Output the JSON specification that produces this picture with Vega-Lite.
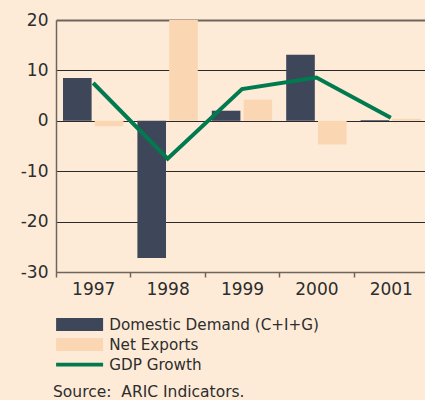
{
  "$schema": "https://vega.github.io/schema/vega-lite/v6.json",
  "width": 372,
  "height": 252,
  "autosize": "none",
  "padding": {"left": 56, "top": 20, "right": 0, "bottom": 128},
  "background": "#fdebd8",
  "config": {"view": {"stroke": null}, "font": "DejaVu Sans"},
  "title": {
    "text": "Source:\u00a0\u00a0ARIC\u00a0Indicators.",
    "orient": "bottom",
    "anchor": "start",
    "frame": "group",
    "baseline": "alphabetic",
    "offset": 24,
    "dx": -3,
    "fontSize": 15.5,
    "fontWeight": "normal",
    "color": "#2d2d2d"
  },
  "data": {
    "values": [
      {"year": "1997", "series": "Domestic Demand (C+I+G)", "value": 8.5},
      {"year": "1998", "series": "Domestic Demand (C+I+G)", "value": -27.2},
      {"year": "1999", "series": "Domestic Demand (C+I+G)", "value": 2.0},
      {"year": "2000", "series": "Domestic Demand (C+I+G)", "value": 13.1},
      {"year": "2001", "series": "Domestic Demand (C+I+G)", "value": 0.15},
      {"year": "1997", "series": "Net Exports", "value": -1.1},
      {"year": "1998", "series": "Net Exports", "value": 20},
      {"year": "1999", "series": "Net Exports", "value": 4.2},
      {"year": "2000", "series": "Net Exports", "value": -4.7},
      {"year": "2001", "series": "Net Exports", "value": 0.4},
      {"year": "1997", "series": "GDP Growth", "value": 7.5},
      {"year": "1998", "series": "GDP Growth", "value": -7.5},
      {"year": "1999", "series": "GDP Growth", "value": 6.3},
      {"year": "2000", "series": "GDP Growth", "value": 8.6},
      {"year": "2001", "series": "GDP Growth", "value": 0.6}
    ]
  },
  "encoding": {
    "x": {
      "field": "year",
      "type": "nominal",
      "scale": {"paddingInner": 0, "paddingOuter": 0},
      "axis": {
        "title": null,
        "labelAngle": 0,
        "labelFontSize": 17,
        "labelColor": "#2d2d2d",
        "labelPadding": 4,
        "tickBand": "extent",
        "tickSize": 5,
        "tickColor": "#6e655c",
        "tickWidth": 1.5,
        "domainColor": "#6e655c",
        "domainWidth": 1.5,
        "grid": false
      }
    },
    "y": {
      "field": "value",
      "type": "quantitative",
      "scale": {"domain": [-30, 20], "nice": false, "zero": false},
      "axis": {
        "title": null,
        "values": [-30, -20, -10, 0, 10, 20],
        "labelExpr": "'' + datum.value",
        "labelFontSize": 17,
        "labelColor": "#2d2d2d",
        "labelPadding": 8,
        "ticks": false,
        "domainColor": "#6e655c",
        "domainWidth": 1.5,
        "grid": true,
        "gridColor": {"condition": {"test": "datum.value === 20 || datum.value === -30", "value": "#6e655c"}, "value": "#2a2a2a"},
        "gridWidth": {"condition": {"test": "datum.value === 20", "value": 1.8}, "value": 1.1},
        "gridOpacity": 1
      }
    }
  },
  "layer": [
    {
      "transform": [{"filter": "datum.series !== 'GDP Growth'"}],
      "mark": {"type": "bar"},
      "encoding": {
        "xOffset": {
          "field": "series",
          "type": "nominal",
          "scale": {"domain": ["Domestic Demand (C+I+G)", "Net Exports"], "paddingInner": 0.1, "paddingOuter": 0.22}
        },
        "color": {
          "field": "series",
          "type": "nominal",
          "scale": {
            "domain": ["Domestic Demand (C+I+G)", "Net Exports", "GDP Growth"],
            "range": ["#3e4659", "#fad7b2", "#007a4e"]
          },
          "legend": {
            "title": null,
            "orient": "none",
            "legendX": -1,
            "legendY": 297,
            "symbolSize": 169,
            "symbolStrokeWidth": 0,
            "labelOffset": 39,
            "labelFontSize": 15.2,
            "labelColor": "#2d2d2d",
            "rowPadding": 4,
            "padding": 0,
            "labelLimit": 400,
            "encode": {
              "symbols": {
                "update": {
                  "shape": {"signal": "datum.value === 'GDP Growth' ? 'M-1,-0.3H6.23V0.3H-1Z' : 'M-1,-1H6.23V1H-1Z'"},
                  "fill": {"scale": "color", "field": "value"},
                  "strokeWidth": {"value": 0},
                  "opacity": {"value": 1}
                }
              }
            }
          }
        }
      }
    },
    {
      "transform": [{"filter": "datum.series === 'GDP Growth'"}],
      "mark": {"type": "line", "strokeWidth": 4},
      "encoding": {
        "color": {"field": "series", "type": "nominal"}
      }
    }
  ]
}
